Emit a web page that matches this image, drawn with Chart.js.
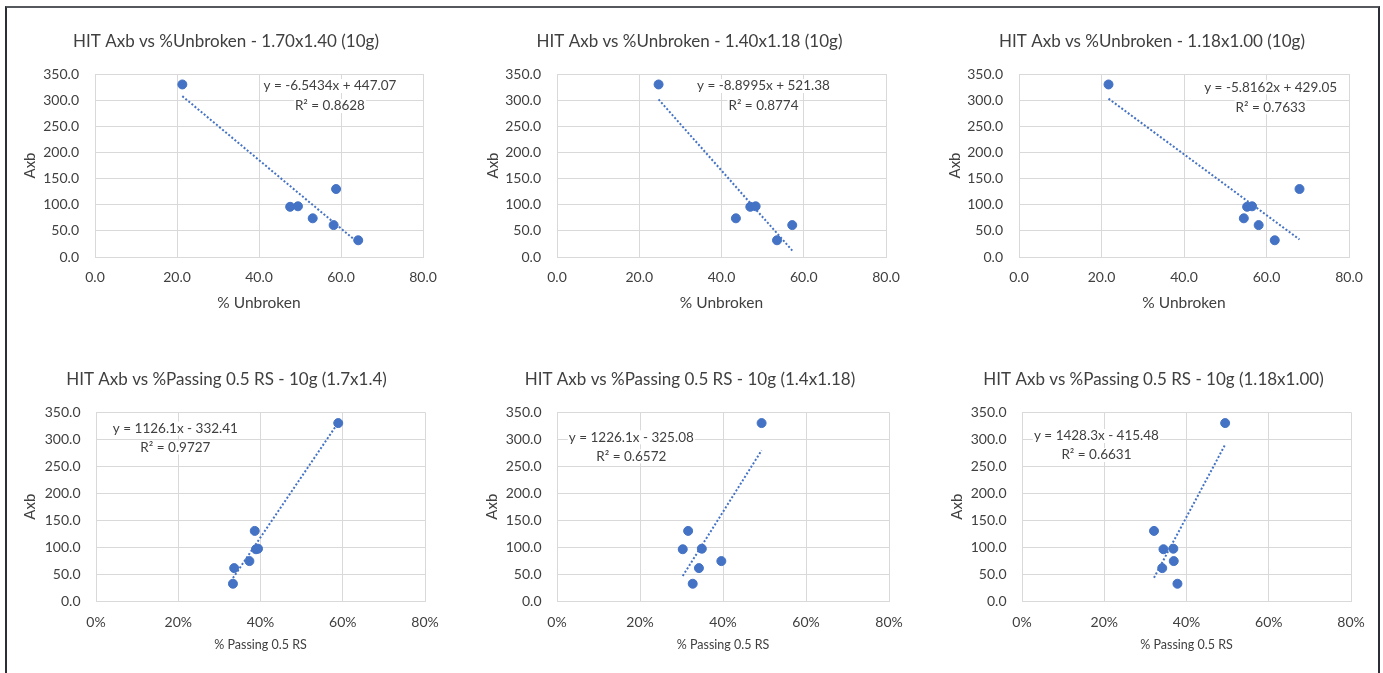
<!DOCTYPE html>
<html>
<head>
<meta charset="utf-8">
<script src="https://cdn.jsdelivr.net/npm/chart.js@4.4.1/dist/chart.umd.min.js"></script>
<style>
    html, body { margin: 0; padding: 0; background: #fff; }
    body { width: 1383px; height: 673px; position: relative; overflow: hidden; }
    #frame {
        position: absolute; left: 5px; top: 6px; width: 1375px; height: 700px;
        box-sizing: border-box; border: 2px solid #2b2f35; border-top-color: #55585d;
    }
    .panel { position: absolute; }
</style>
</head>
<body>
<div id="frame"></div>
<div class="panel" id="p0"><canvas id="c0"></canvas></div>
<div class="panel" id="p1"><canvas id="c1"></canvas></div>
<div class="panel" id="p2"><canvas id="c2"></canvas></div>
<div class="panel" id="p3"><canvas id="c3"></canvas></div>
<div class="panel" id="p4"><canvas id="c4"></canvas></div>
<div class="panel" id="p5"><canvas id="c5"></canvas></div>
<script>
// chart data
const titles = [
    "HIT Axb vs %Unbroken - 1.70x1.40 (10g)",
    "HIT Axb vs %Unbroken - 1.40x1.18 (10g)",
    "HIT Axb vs %Unbroken - 1.18x1.00 (10g)",
    "HIT Axb vs %Passing 0.5 RS - 10g (1.7x1.4)",
    "HIT Axb vs %Passing 0.5 RS - 10g (1.4x1.18)",
    "HIT Axb vs %Passing 0.5 RS - 10g (1.18x1.00)"
];
const xTitles = ["% Unbroken", "% Unbroken", "% Unbroken", "% Passing 0.5 RS", "% Passing 0.5 RS", "% Passing 0.5 RS"];

const axbValues = [330, 130, 96, 97, 74, 61, 32];
const unbroken1 = [21.3, 58.8, 47.6, 49.5, 53.1, 58.2, 64.2];
const unbroken2 = [24.7, null, 47.0, 48.3, 43.5, 57.2, 53.5];
const unbroken3 = [21.7, 68.0, 55.3, 56.5, 54.5, 58.1, 62.0];
const passing1 = [0.589, 0.386, 0.389, 0.394, 0.373, 0.336, 0.333];
const passing2 = [0.493, 0.316, 0.303, 0.349, 0.396, 0.342, 0.327];
const passing3 = [0.494, 0.321, 0.344, 0.368, 0.369, 0.341, 0.378];
const xSeries = [unbroken1, unbroken2, unbroken3, passing1, passing2, passing3];

// trendline equations as printed on the chart
const slopes = [-6.5434, -8.8995, -5.8162, 1126.1, 1226.1, 1428.3];
const intercepts = [447.07, 521.38, 429.05, -332.41, -325.08, -415.48];
const eqTexts = [
    "y = -6.5434x + 447.07", "y = -8.8995x + 521.38", "y = -5.8162x + 429.05",
    "y = 1126.1x - 332.41", "y = 1226.1x - 325.08", "y = 1428.3x - 415.48"
];
const r2Texts = ["R² = 0.8628", "R² = 0.8774", "R² = 0.7633", "R² = 0.9727", "R² = 0.6572", "R² = 0.6631"];
// where the equation labels sit, in data units
const eqX = [57.3, 50.2, 61.0, 0.193, 0.179, 0.181];
const eqY = [327, 327, 324.5, 320, 303.6, 306];

const xMaxes = [80, 80, 80, 0.8, 0.8, 0.8];
const xSteps = [20, 20, 20, 0.2, 0.2, 0.2];
const yMax = 350;
const yStep = 50;

// layout of the six panels: s = left edge of the y scale, plot area from plotL to plotR
const panels = [
    {s: 29, plotL: 95, plotR: 423, top: 10, height: 309, axbPad: -7.7},
    {s: 493, plotL: 557, plotR: 886, top: 10, height: 309, axbPad: -8.7},
    {s: 955, plotL: 1019, plotR: 1349, top: 10, height: 309, axbPad: -8.7},
    {s: 28, plotL: 96, plotR: 425, top: 347, height: 314, axbPad: -6.7},
    {s: 491, plotL: 557, plotR: 889, top: 347, height: 314, axbPad: -7.7},
    {s: 956, plotL: 1022, plotR: 1351, top: 347, height: 314, axbPad: -7.7}
];
const padL = 20;
const padR = 32;
const rowStyles = [
    {titleTop: 22.1, titleBottom: 22.1, xH: 62, xTickPad: 11.9, xTitleSize: 15.5, xTitlePad: 6.7, yTickPad: 16, lineGap: 20},
    {titleTop: 22.4, titleBottom: 23.1, xH: 60, xTickPad: 12.9, xTitleSize: 12.5, xTitlePad: 8.5, yTickPad: 15.5, lineGap: 19}
];

const FONT = "Lato, 'Liberation Sans', sans-serif";
const BLUE = "#4472C4";
const GRID = "#D9D9D9";
const TEXT = "#404040";

const eqLabelPlugin = {
    id: "eqLabel",
    afterDatasetsDraw(chart, args, opts) {
        const ctx = chart.ctx;
        const px = chart.scales.x.getPixelForValue(opts.x);
        const py = chart.scales.y.getPixelForValue(opts.y);
        ctx.save();
        ctx.font = "13.5px " + FONT;
        ctx.textAlign = "center";
        ctx.textBaseline = "middle";
        opts.lines.forEach((t, i) => {
            const yy = py + i * opts.gap;
            const w = ctx.measureText(t).width;
            ctx.fillStyle = "#fff";
            ctx.fillRect(px - w / 2 - 1, yy - 7, w + 2, 14);
            ctx.fillStyle = TEXT;
            ctx.fillText(t, px, yy);
        });
        ctx.restore();
    }
};

function makePoints(xs) {
    const pts = [];
    for (let i = 0; i < xs.length; i++) {
        if (xs[i] !== null) pts.push({x: xs[i], y: axbValues[i]});
    }
    return pts;
}

function makeChart(i) {
    const p = panels[i];
    const rs = rowStyles[i < 3 ? 0 : 1];
    const box = document.getElementById("p" + i);
    const left = p.s - padL;
    box.style.left = left + "px";
    box.style.top = p.top + "px";
    box.style.width = (p.plotR + padR - left) + "px";
    box.style.height = p.height + "px";

    const pts = makePoints(xSeries[i]);
    const xs = pts.map(q => q.x);
    const x0 = Math.min(...xs);
    const x1 = Math.max(...xs);
    const trend = [
        {x: x0, y: slopes[i] * x0 + intercepts[i]},
        {x: x1, y: slopes[i] * x1 + intercepts[i]}
    ];
    const isPct = i >= 3;

    new Chart(document.getElementById("c" + i), {
        type: "scatter",
        data: {
            datasets: [{
                data: pts,
                backgroundColor: BLUE,
                borderColor: BLUE,
                borderWidth: 1,
                pointRadius: 4.5,
                pointHoverRadius: 4.5
            }, {
                data: trend,
                showLine: true,
                borderColor: BLUE,
                borderWidth: 2,
                borderDash: [2, 2],
                pointRadius: 0,
                fill: false
            }]
        },
        options: {
            responsive: true,
            maintainAspectRatio: false,
            animation: false,
            layout: {padding: {left: padL, right: padR, top: 0, bottom: 0}},
            plugins: {
                legend: {display: false},
                tooltip: {enabled: false},
                title: {
                    display: true,
                    text: titles[i],
                    color: TEXT,
                    font: {family: FONT, size: 17, weight: "normal", lineHeight: 1.2},
                    padding: {top: rs.titleTop - 0.3, bottom: rs.titleBottom - 0.3}
                },
                eqLabel: {x: eqX[i], y: eqY[i], lines: [eqTexts[i], r2Texts[i]], gap: rs.lineGap}
            },
            scales: {
                x: {
                    type: "linear",
                    min: 0,
                    max: xMaxes[i],
                    afterFit: (s) => { s.height = rs.xH; },
                    grid: {color: GRID, lineWidth: 1, drawTicks: false},
                    border: {color: GRID, width: 1},
                    ticks: {
                        stepSize: xSteps[i],
                        padding: rs.xTickPad,
                        color: TEXT,
                        font: {family: FONT, size: 14, lineHeight: 1.2},
                        maxRotation: 0,
                        callback: (v) => isPct ? Math.round(v * 100) + "%" : Number(v).toFixed(1)
                    },
                    title: {
                        display: true,
                        text: xTitles[i],
                        color: TEXT,
                        font: {family: FONT, size: rs.xTitleSize, lineHeight: 1.2},
                        padding: {top: 0, bottom: rs.xTitlePad}
                    }
                },
                y: {
                    type: "linear",
                    min: 0,
                    max: yMax,
                    afterFit: (s) => { s.width = p.plotL - p.s; },
                    grid: {color: GRID, lineWidth: 1, drawTicks: false},
                    border: {color: GRID, width: 1},
                    ticks: {
                        stepSize: yStep,
                        padding: rs.yTickPad,
                        color: TEXT,
                        font: {family: FONT, size: 14, lineHeight: 1.2},
                        callback: (v) => Number(v).toFixed(1)
                    },
                    title: {
                        display: true,
                        text: "Axb",
                        color: TEXT,
                        font: {family: FONT, size: 15, lineHeight: 1.2},
                        padding: {top: p.axbPad - 0.3, bottom: 0}
                    }
                }
            }
        },
        plugins: [eqLabelPlugin]
    });
}

document.fonts.load("16px Lato").then(() => {
    for (let i = 0; i < 6; i++) makeChart(i);
});
</script>
</body>
</html>
